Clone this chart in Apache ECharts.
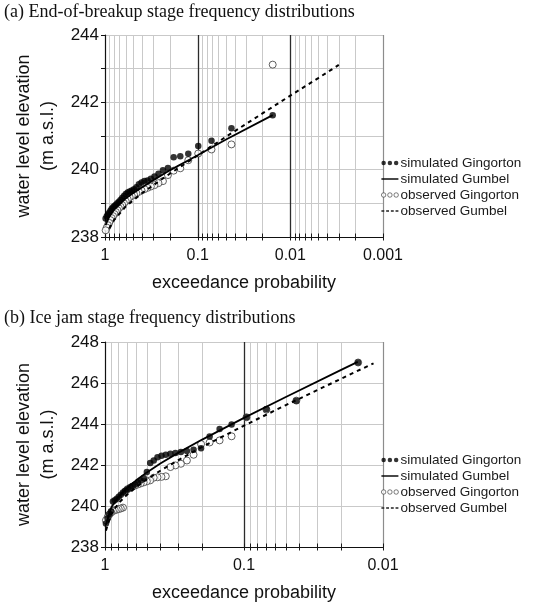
<!DOCTYPE html>
<html>
<head>
<meta charset="utf-8">
<script src="https://cdn.jsdelivr.net/npm/echarts@6/dist/echarts.min.js"></script>
<style>
  html, body { margin: 0; padding: 0; background: #ffffff; }
  #chart { width: 545px; height: 606px; }
</style>
</head>
<body>
<div id="chart"></div>
<script>
// ---- (a) end-of-breakup stage: Gringorten plotting positions and stages (m a.s.l.)
const probA = [0.0155, 0.0432, 0.0709, 0.0986, 0.1263, 0.1540, 0.1816, 0.2093, 0.2370, 0.2647,
  0.2924, 0.3200, 0.3477, 0.3754, 0.4031, 0.4308, 0.4585, 0.4862, 0.5138, 0.5415,
  0.5692, 0.5969, 0.6246, 0.6523, 0.6800, 0.7076, 0.7353, 0.7630, 0.7907, 0.8184,
  0.8461, 0.8737, 0.9014, 0.9291, 0.9568, 0.9845];
const simGingortenA = [241.62, 241.23, 240.86, 240.70, 240.47, 240.40, 240.37, 240.05, 239.98, 239.88,
  239.80, 239.73, 239.68, 239.66, 239.62, 239.57, 239.48, 239.42, 239.38, 239.35,
  239.32, 239.28, 239.22, 239.16, 239.10, 239.05, 239.00, 238.96, 238.92, 238.88,
  238.84, 238.78, 238.72, 238.67, 238.62, 238.55];
const obsGingortenA = [243.12, 240.75, 240.60, 240.48, 240.28, 240.04, 239.97, 239.84, 239.66, 239.60,
  239.54, 239.50, 239.46, 239.42, 239.38, 239.34, 239.30, 239.26, 239.22, 239.18,
  239.12, 239.06, 239.00, 238.95, 238.90, 238.85, 238.80, 238.74, 238.68, 238.62,
  238.56, 238.50, 238.42, 238.35, 238.28, 238.20];
const simGumbelProbA = [0.985, 0.9, 0.8, 0.7, 0.6, 0.5, 0.4, 0.3, 0.2, 0.1, 0.05, 0.0155];
const simGumbelA = [238.35, 238.62, 238.82, 238.98, 239.14, 239.30, 239.47, 239.69, 239.98, 240.43, 240.89, 241.62];
const obsGumbelProbA = [0.9, 0.8, 0.6, 0.4, 0.2, 0.1, 0.05, 0.02, 0.01, 0.005, 0.003];
const obsGumbelA = [238.25, 238.50, 238.90, 239.30, 239.88, 240.42, 240.97, 241.67, 242.20, 242.72, 243.11];

// ---- (b) ice jam stage
const probB = [0.0151, 0.0420, 0.0690, 0.0959, 0.1228, 0.1498, 0.1767, 0.2037, 0.2306, 0.2575,
  0.2845, 0.3114, 0.3384, 0.3653, 0.3922, 0.4192, 0.4461, 0.4731, 0.5000, 0.5269,
  0.5539, 0.5808, 0.6078, 0.6347, 0.6616, 0.6886, 0.7155, 0.7425, 0.7694, 0.7963,
  0.8233, 0.8502, 0.8772, 0.9041, 0.9310, 0.9580, 0.9849];
const simGingortenB = [247.00, 245.14, 244.72, 244.33, 243.97, 243.76, 243.39, 242.82, 242.75, 242.68,
  242.63, 242.58, 242.55, 242.50, 242.45, 242.38, 242.22, 242.10, 241.66, 241.36,
  241.24, 241.15, 241.05, 240.98, 240.90, 240.82, 240.75, 240.66, 240.55, 240.45,
  240.35, 240.28, 240.22, 239.75, 239.60, 239.40, 239.15];
const obsGingortenB = [247.00, 245.14, 244.70, 244.33, 243.40, 243.20, 243.10, 243.02, 242.50, 242.22,
  242.06, 241.98, 241.90, 241.45, 241.42, 241.40, 241.38, 241.25, 241.20, 241.15,
  241.10, 241.05, 241.00, 240.95, 240.88, 240.82, 240.70, 239.92, 239.88, 239.85,
  239.82, 239.80, 239.75, 239.68, 239.58, 239.45, 239.30];
const simGumbelProbB = [0.985, 0.9, 0.8, 0.7, 0.6, 0.5, 0.4, 0.3, 0.2, 0.1, 0.05, 0.02, 0.0152];
const simGumbelB = [239.09, 239.94, 240.45, 240.86, 241.24, 241.64, 242.07, 242.58, 243.24, 244.30, 245.32, 246.64, 247.03];
const obsGumbelProbB = [0.985, 0.9, 0.8, 0.7, 0.6, 0.5, 0.4, 0.3, 0.2, 0.1, 0.05, 0.02, 0.0117];
const obsGumbelB = [238.80, 239.63, 240.13, 240.53, 240.91, 241.30, 241.72, 242.22, 242.88, 243.92, 244.92, 246.21, 246.96];

// ---- probability axis: decade lines, minor lines and tick positions
const decadeLinesA = [0.1, 0.01];
const decadeLinesB = [0.1];
const minorLinesA = [0.9, 0.8, 0.7, 0.6, 0.5, 0.4, 0.3, 0.2,
  0.09, 0.08, 0.07, 0.06, 0.05, 0.04, 0.03, 0.02,
  0.009, 0.008, 0.007, 0.006, 0.005, 0.004, 0.003, 0.002];
const minorLinesB = [0.9, 0.8, 0.7, 0.6, 0.5, 0.4, 0.3, 0.2,
  0.09, 0.08, 0.07, 0.06, 0.05, 0.04, 0.03, 0.02];
const probRangeA = [0.001, 1];
const probRangeB = [0.01, 1];
const stageRangeA = [238, 244];
const stageRangeB = [238, 248];

const SANS = 'Liberation Sans, Arial, sans-serif';
const SERIF = 'Liberation Serif, Times New Roman, serif';
const INK = '#111111';

const NAMES = ['simulated Gingorton', 'simulated Gumbel', 'observed Gingorton', 'observed Gumbel'];

function pairs(xs, ys) { return xs.map((x, i) => [x, ys[i]]); }

// kind: 0 minor grid line, 1 decade line, 2 right border, 3 tick only
function probLines(minor, decades, range) {
  const rows = [];
  minor.forEach(p => rows.push([p, 0]));
  decades.forEach(p => rows.push([p, 1]));
  rows.push([range[0], 2]);
  rows.push([range[1], 3]);
  return rows;
}

const lineColor = ['#c9c9c9', '#2b2b2b', '#8c8c8c'];
const lineWidth = [1, 1.3, 1.2];

function makeGridRenderer(stageMin) {
  return function (params, api) {
    const cs = params.coordSys;
    const p = api.value(0);
    const kind = api.value(1);
    const x = Math.round(api.coord([p, stageMin])[0]) + 0.5;
    const bottom = cs.y + cs.height;
    const children = [];
    if (kind < 3) {
      children.push({
        type: 'line',
        shape: { x1: x, y1: cs.y, x2: x, y2: bottom },
        style: { stroke: lineColor[kind], lineWidth: lineWidth[kind] }
      });
    }
    children.push({
      type: 'line',
      shape: { x1: x, y1: bottom - 3.5, x2: x, y2: bottom + 3.5 },
      style: { stroke: '#1a1a1a', lineWidth: 1 }
    });
    return { type: 'group', children: children };
  };
}

function probAxis(idx, range) {
  return {
    type: 'log', logBase: 10, gridIndex: idx,
    min: range[0], max: range[1], inverse: true,
    name: 'exceedance probability', nameLocation: 'middle', nameGap: 37,
    nameTextStyle: { fontFamily: SANS, fontSize: 18, color: INK },
    axisLine: { show: true, onZero: false, lineStyle: { color: '#111', width: 1.2 } },
    axisTick: { show: false },
    splitLine: { show: false },
    minorTick: { show: false },
    axisLabel: {
      margin: 11, fontFamily: SANS, fontSize: 16, color: INK,
      formatter: v => String(+Number(v).toPrecision(3))
    }
  };
}

function stageAxis(idx, range, interval, labelStep) {
  return {
    type: 'value', gridIndex: idx,
    min: range[0], max: range[1], interval: interval,
    name: 'water level elevation\n(m a.s.l.)', nameLocation: 'middle', nameRotate: 90, nameGap: 38,
    nameTextStyle: { fontFamily: SANS, fontSize: 18, color: INK, lineHeight: 24 },
    axisLine: { show: true, onZero: false, lineStyle: { color: '#111', width: 1.2 } },
    axisTick: { show: true, length: 4, lineStyle: { color: '#111' } },
    splitLine: { show: true, lineStyle: { color: '#c9c9c9', width: 1 } },
    axisLabel: {
      margin: 6, fontFamily: SANS, fontSize: 17, color: INK,
      formatter: v => ((v - range[0]) % labelStep === 0 ? String(v) : '')
    }
  };
}

function panelSeries(idx, d) {
  return [
    {
      type: 'custom', name: 'grid' + idx, xAxisIndex: idx, yAxisIndex: idx,
      renderItem: makeGridRenderer(d.stageMin), data: d.lines, z: 1, silent: true, clip: false,
      encode: { x: 0, y: -1 }
    },
    {
      type: 'scatter', name: NAMES[2], xAxisIndex: idx, yAxisIndex: idx, color: '#000',
      data: pairs(d.prob, d.obs), symbol: 'circle', symbolSize: 7,
      itemStyle: { color: '#ffffff', borderColor: '#3a3a3a', borderWidth: 1 }, z: 3, silent: true
    },
    {
      type: 'line', name: NAMES[3], xAxisIndex: idx, yAxisIndex: idx, color: '#000',
      data: pairs(d.obsGumbelProb, d.obsGumbel), symbol: 'none',
      itemStyle: { color: '#000' },
      lineStyle: { color: '#000', width: 2, type: [4, 4] }, z: 4, silent: true
    },
    {
      type: 'line', name: NAMES[1], xAxisIndex: idx, yAxisIndex: idx, color: '#000',
      data: pairs(d.simGumbelProb, d.simGumbel), symbol: 'none',
      itemStyle: { color: '#000' },
      lineStyle: { color: '#000', width: 1.8 }, z: 4, silent: true
    },
    {
      type: 'scatter', name: NAMES[0], xAxisIndex: idx, yAxisIndex: idx, color: '#000',
      data: pairs(d.prob, d.sim), symbol: 'circle', symbolSize: 6.5,
      itemStyle: { color: '#000000' }, z: 5, silent: true
    }
  ];
}

// legend keys: three small circles for point series, solid and dashed strokes for the fitted curves
const DOTS = 'path://M0,2.5a2.5,2.5 0 1,0 5,0a2.5,2.5 0 1,0 -5,0z' +
  'M7,2.5a2.5,2.5 0 1,0 5,0a2.5,2.5 0 1,0 -5,0z' +
  'M14,2.5a2.5,2.5 0 1,0 5,0a2.5,2.5 0 1,0 -5,0z';
const SOLID = 'path://M0,0h19v1.6h-19z';
const DASHES = 'path://M0,0h3.2v1.4h-3.2zM5.3,0h3.2v1.4h-3.2zM10.6,0h3.2v1.4h-3.2zM15.8,0h3.2v1.4h-3.2z';

function legendAt(top) {
  return {
    orient: 'vertical', left: 381, top: top, padding: 0,
    itemWidth: 17, itemHeight: 5, itemGap: 0,
    selectedMode: false,
    textStyle: { fontFamily: SANS, fontSize: 13.5, color: '#1a1a1a', lineHeight: 16, padding: [0, 0, 0, -3] },
    data: [
      { name: NAMES[0], icon: DOTS, itemStyle: { color: '#000', borderWidth: 0 } },
      { name: NAMES[1], icon: SOLID, itemStyle: { color: '#000', borderWidth: 0 } },
      { name: NAMES[2], icon: DOTS, itemStyle: { color: '#fff', borderColor: '#333', borderWidth: 0.8 } },
      { name: NAMES[3], icon: DASHES, itemStyle: { color: '#222', borderWidth: 0 } }
    ]
  };
}

const chart = echarts.init(document.getElementById('chart'), null, { renderer: 'canvas' });

chart.setOption({
  backgroundColor: '#ffffff',
  animation: false,
  title: [
    { text: '(a) End-of-breakup stage frequency distributions', left: 4, top: 3, padding: 0,
      textStyle: { fontFamily: SERIF, fontSize: 18, fontWeight: 'normal', color: INK } },
    { text: '(b) Ice jam stage frequency distributions', left: 4, top: 309, padding: 0,
      textStyle: { fontFamily: SERIF, fontSize: 18, fontWeight: 'normal', color: INK } }
  ],
  legend: [legendAt(155), legendAt(452)],
  grid: [
    { left: 105, top: 35, width: 278, height: 202, containLabel: false },
    { left: 105, top: 342, width: 278, height: 205, containLabel: false }
  ],
  xAxis: [probAxis(0, probRangeA), probAxis(1, probRangeB)],
  yAxis: [stageAxis(0, stageRangeA, 1, 2), stageAxis(1, stageRangeB, 2, 2)],
  series: [].concat(
    panelSeries(0, {
      stageMin: stageRangeA[0], lines: probLines(minorLinesA, decadeLinesA, probRangeA),
      prob: probA, sim: simGingortenA, obs: obsGingortenA,
      simGumbelProb: simGumbelProbA, simGumbel: simGumbelA,
      obsGumbelProb: obsGumbelProbA, obsGumbel: obsGumbelA
    }),
    panelSeries(1, {
      stageMin: stageRangeB[0], lines: probLines(minorLinesB, decadeLinesB, probRangeB),
      prob: probB, sim: simGingortenB, obs: obsGingortenB,
      simGumbelProb: simGumbelProbB, simGumbel: simGumbelB,
      obsGumbelProb: obsGumbelProbB, obsGumbel: obsGumbelB
    })
  )
});
</script>
</body>
</html>
